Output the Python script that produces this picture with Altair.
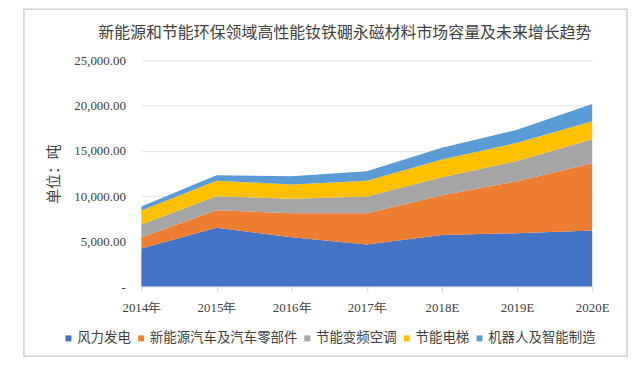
import altair as alt
import pandas as pd

years = ["2014年", "2015年", "2016年", "2017年", "2018E", "2019E", "2020E"]
series = ["风力发电", "新能源汽车及汽车零部件", "节能变频空调", "节能电梯", "机器人及智能制造"]
colors = ["#4472C4", "#ED7D31", "#A5A5A5", "#FFC000", "#5B9BD5"]

wind = [4200, 6500, 5450, 4650, 5700, 5900, 6200]
nev = [1250, 1950, 2650, 3450, 4400, 5750, 7450]
ac = [1400, 1550, 1600, 1850, 2000, 2250, 2650]
elevator = [1550, 1700, 1600, 1750, 1950, 2000, 2000]
robot = [450, 600, 900, 1050, 1300, 1450, 1900]

values = [wind, nev, ac, elevator, robot]
rows = []
for si, (name, vals) in enumerate(zip(series, values)):
    for y, v in zip(years, vals):
        rows.append({"year": y, "series": name, "value": v, "order": si})
df = pd.DataFrame(rows)

W, H = 453, 227

area = alt.Chart(df).mark_area(interpolate="linear", opacity=1).encode(
    x=alt.X("year:O", sort=years,
            scale=alt.Scale(type="point", padding=0),
            axis=alt.Axis(title=None, labelAngle=0, labelFont="Liberation Serif",
                          labelFontSize=13, labelColor="#404040", labelPadding=10,
                          domain=False, ticks=True, tickColor="#d9d9d9", tickSize=5,
                          grid=False)),
    y=alt.Y("value:Q", stack="zero",
            scale=alt.Scale(domain=[0, 25000], nice=False),
            axis=alt.Axis(values=[0, 5000, 10000, 15000, 20000, 25000],
                          labelExpr="datum.value == 0 ? '-    ' : format(datum.value, ',.2f')",
                          labelFont="Liberation Serif", labelFontSize=13,
                          labelColor="#404040", labelPadding=16,
                          domain=False, ticks=False, grid=True, gridColor="#e3e3e3",
                          title="单位：吨", titleFont="Noto Sans CJK SC",
                          titleFontSize=15, titleFontWeight="normal", titleColor="#404040",
                          titleAngle=-90, titleX=-88, titleY=H / 2,
                          titleAlign="center", titleBaseline="middle")),
    color=alt.Color("series:N", sort=series,
                    scale=alt.Scale(domain=series, range=colors),
                    legend=alt.Legend(title=None, orient="none", direction="horizontal",
                                      legendX=-80, legendY=272,
                                      symbolType="square", symbolSize=36,
                                      symbolStrokeWidth=0, labelOffset=2,
                                      columnPadding=3, padding=0,
                                      labelFont="Noto Sans CJK SC",
                                      labelFontSize=13.5, labelColor="#404040")),
    order=alt.Order("order:Q", sort="ascending"),
)

frame = alt.Chart(pd.DataFrame({"a": [0]})).mark_rect(
    fill=None, stroke="#d0d0d0", strokeWidth=1.5, clip=False
).encode(
    x=alt.value(-118), x2=alt.value(488), y=alt.value(-51.5), y2=alt.value(297)
)

chart = alt.layer(frame, area).properties(
    width=W, height=H,
    padding={"left": 134, "top": 52, "right": 40, "bottom": 73},
    autosize="none",
    title=alt.TitleParams(text="新能源和节能环保领域高性能钕铁硼永磁材料市场容量及未来增长趋势",
                          font="Noto Sans CJK SC", fontSize=16, fontWeight="normal",
                          color="#404040", anchor="middle", dx=-22, offset=-33),
).configure_view(stroke=None)

chart.save("out.html", embed_options={"renderer": "svg", "actions": False})
